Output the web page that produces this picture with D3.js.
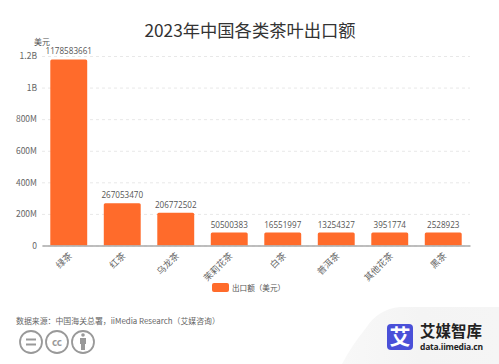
<!DOCTYPE html>
<html>
<head>
<meta charset="utf-8">
<script src="https://cdn.jsdelivr.net/npm/d3@7"></script>
<style>
    html, body { margin: 0; padding: 0; background: #fff; }
    svg { display: block; }
    text { font-family: "Noto Sans CJK SC", "Open Sans", sans-serif; }
</style>
</head>
<body>
<div id="chart"></div>
<script>
// values
const categories = ["绿茶", "红茶", "乌龙茶", "茉莉花茶", "白茶", "普洱茶", "其他花茶", "黑茶"];
const exportValues = [1178583661, 267053470, 206772502, 50500383, 16551997, 13254327, 3951774, 2528923];
const tickValues = [0, 200000000, 400000000, 600000000, 800000000, 1000000000, 1200000000];
const tickLabels = ["0", "200M", "400M", "600M", "800M", "1B", "1.2B"];

const width = 499, height = 364;
const orange = "#ff6b2b";
const minBarHeight = 13; // small bars are held at a minimum height in the original

const svg = d3.select("#chart").append("svg")
    .attr("width", width)
    .attr("height", height);

const x = d3.scaleBand()
    .domain(categories)
    .range([42, 470])
    .paddingInner(0.31)
    .paddingOuter(0.155);

const y = d3.scaleLinear()
    .domain([0, 1200000000])
    .range([245.5, 56]);

// Title
svg.append("text")
    .attr("x", 250)
    .attr("y", 37)
    .attr("text-anchor", "middle")
    .style("font-size", "17.3px")
    .style("fill", "#333")
    .text("2023年中国各类茶叶出口额");

// Unit
svg.append("text")
    .attr("x", 42)
    .attr("y", 45)
    .attr("text-anchor", "middle")
    .style("font-size", "8px")
    .style("fill", "#555")
    .text("美元");

// Y axis with dashed grid
const yAxis = svg.append("g")
    .attr("transform", "translate(42,0)")
    .call(d3.axisLeft(y)
        .tickValues(tickValues)
        .tickFormat((d, i) => tickLabels[i])
        .tickSize(-428)
        .tickPadding(5));
yAxis.select(".domain").remove();
yAxis.selectAll("line")
    .style("stroke", "#e8e8e8")
    .style("stroke-dasharray", "3,3");
yAxis.selectAll("text")
    .style("font-size", "8.5px")
    .style("fill", "#666");

// Bars
const barTop = d => Math.min(y(d.value), y(0) - minBarHeight);
const barData = categories.map((c, i) => ({category: c, value: exportValues[i]}));

svg.selectAll(".bar")
    .data(barData)
    .enter()
    .append("path")
    .attr("class", "bar")
    .attr("fill", orange)
    .attr("d", d => {
        let x0 = x(d.category), x1 = x0 + x.bandwidth(), t = barTop(d), b = y(0), r = 1.5;
        return `M${x0},${b}V${t + r}Q${x0},${t} ${x0 + r},${t}H${x1 - r}Q${x1},${t} ${x1},${t + r}V${b}Z`;
    });

// Value labels
svg.selectAll(".value-label")
    .data(barData)
    .enter()
    .append("text")
    .attr("class", "value-label")
    .attr("x", d => x(d.category) + x.bandwidth() / 2)
    .attr("y", d => barTop(d) - 5)
    .attr("text-anchor", "middle")
    .style("font-family", "'Open Sans', sans-serif")
    .style("font-size", "8.1px")
    .style("fill", "#555")
    .text(d => d.value);

// X axis
const xAxis = svg.append("g")
    .attr("transform", "translate(0,245.5)")
    .call(d3.axisBottom(x).tickSize(0).tickPadding(0));
xAxis.select(".domain")
    .style("stroke", "#aaa")
    .style("stroke-width", 1.5);
xAxis.selectAll("text")
    .attr("transform", "translate(-1,6) rotate(-45)")
    .attr("text-anchor", "end")
    .attr("dy", "0.75em")
    .style("font-size", "9px")
    .style("fill", "#666");

// Legend
svg.append("rect")
    .attr("x", 212).attr("y", 283)
    .attr("width", 17).attr("height", 9)
    .attr("rx", 2)
    .attr("fill", orange);
svg.append("text")
    .attr("x", 232)
    .attr("y", 291)
    .style("font-size", "7.6px")
    .style("fill", "#555")
    .text("出口额（美元）");

// Source
svg.append("text")
    .attr("x", 16)
    .attr("y", 324)
    .style("font-size", "7.9px")
    .style("fill", "#666")
    .text("数据来源：中国海关总署，iiMedia Research（艾媒咨询）");

// Licence icons
const icons = svg.append("g")
    .attr("fill", "none")
    .attr("stroke", "#999")
    .attr("stroke-width", 1.8);
[31, 57, 83].forEach(cx => {
    icons.append("circle").attr("cx", cx).attr("cy", 342).attr("r", 11);
});
icons.append("path").attr("d", "M26,339.5H36M26,344.5H36").attr("stroke-width", 2);
svg.append("text")
    .attr("x", 57).attr("y", 345.5)
    .attr("text-anchor", "middle")
    .style("font-size", "10px")
    .style("font-weight", 700)
    .style("fill", "#999")
    .text("cc");
svg.append("circle").attr("cx", 83).attr("cy", 335).attr("r", 1.8).attr("fill", "#999");
svg.append("path")
    .attr("d", "M80,338H86V344H85V350H81V344H80Z")
    .attr("fill", "#999");

// Logo panel, curved corner sweeping down to the left
const grad = svg.append("defs").append("linearGradient")
    .attr("id", "panel")
    .attr("x1", 0).attr("x2", 1).attr("y1", 0).attr("y2", 0);
grad.append("stop").attr("offset", 0).attr("stop-color", "#f8f8f8");
grad.append("stop").attr("offset", 0.5).attr("stop-color", "#f4f4f4");
grad.append("stop").attr("offset", 1).attr("stop-color", "#f5f5f5");
svg.append("path")
    .attr("d", "M342,364Q352,345 366,328Q378,309 400,307H499V364Z")
    .attr("fill", "url(#panel)");
svg.append("rect")
    .attr("x", 387).attr("y", 324)
    .attr("width", 26).attr("height", 26)
    .attr("rx", 4)
    .attr("fill", "#4a50d8");
svg.append("text")
    .attr("x", 400).attr("y", 344)
    .attr("text-anchor", "middle")
    .style("font-size", "21px")
    .style("font-weight", 700)
    .style("fill", "#fff")
    .text("艾");
svg.append("text")
    .attr("x", 420).attr("y", 337)
    .style("font-size", "15.5px")
    .style("font-weight", 700)
    .style("fill", "#222")
    .text("艾媒智库");
svg.append("text")
    .attr("x", 420).attr("y", 350)
    .attr("textLength", 63)
    .style("font-family", "'Open Sans', sans-serif")
    .style("font-size", "8.5px")
    .style("font-weight", 700)
    .style("fill", "#222")
    .text("data.iimedia.cn");
</script>
</body>
</html>
